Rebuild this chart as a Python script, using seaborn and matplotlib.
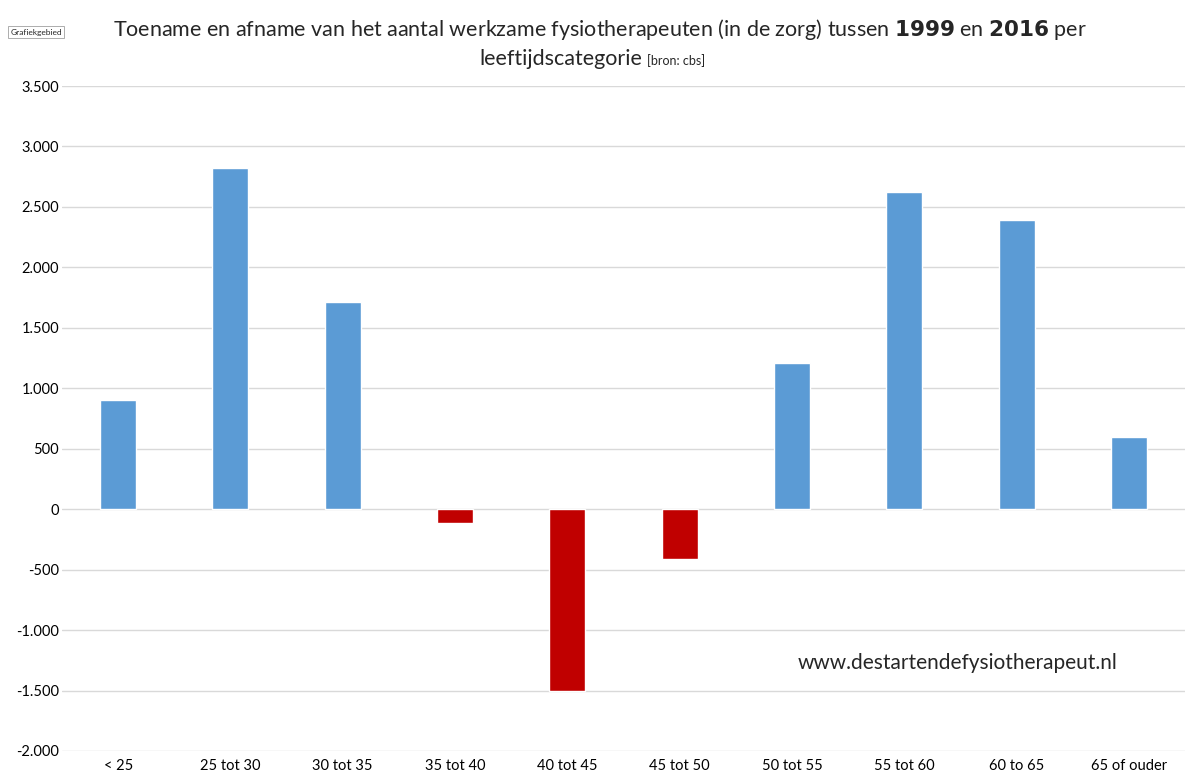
import matplotlib
matplotlib.use("Agg")
import matplotlib.pyplot as plt
import seaborn as sns
import pandas as pd
from matplotlib.ticker import FuncFormatter

categories = ["< 25", "25 tot 30", "30 tot 35", "35 tot 40", "40 tot 45", "45 tot 50",
              "50 tot 55", "55 tot 60", "60 to 65", "65 of ouder"]
values = [900, 2820, 1710, -115, -1500, -410, 1210, 2620, 2390, 600]
yticks = list(range(-2000, 3501, 500))

df = pd.DataFrame({"cat": categories, "val": values})
colors = ["#5B9BD5" if v >= 0 else "#C00000" for v in values]

sns.set_theme(style="white")
plt.rcParams['font.family'] = ['Lato', 'DejaVu Sans']

fig = plt.figure(figsize=(12, 7.83), dpi=100)
ax = fig.add_axes([62/1200, 1-751/783, (1185-62)/1200, (751-86)/783])
sns.barplot(data=df, x="cat", y="val", hue="cat", palette=colors, legend=False,
            width=0.32, ax=ax, saturation=1, zorder=3)
ax.set_ylim(-2000, 3500)
ax.set_xlim(-0.5, len(categories)-0.5)
ax.set_yticks(yticks)
ax.yaxis.set_major_formatter(FuncFormatter(lambda v, p: f"{int(v):,}".replace(",", ".")))
ax.grid(axis="y", color="#D9D9D9", linewidth=1, zorder=0)
for s in ax.spines.values():
    s.set_visible(False)
ax.set_xlabel("")
ax.set_ylabel("")
ax.tick_params(axis="both", labelsize=10.5, colors="black", length=0, pad=6)
ax.tick_params(axis="y", pad=2)

fig.text(0.5, 0.962, "Toename en afname van het aantal werkzame fysiotherapeuten (in de zorg) tussen $\\bf{1999}$ en $\\bf{2016}$ per",
         ha="center", va="center", fontsize=15.5)
fig.text(0.5, 0.925, "leeftijdscategorie", ha="right", va="center", fontsize=15.5, x=0) if False else None
t = fig.text(0.535, 0.925, "leeftijdscategorie", ha="right", va="center", fontsize=15.5)
fig.text(0.539, 0.923, "[bron: cbs]", ha="left", va="center", fontsize=9)
fig.text(0.03, 0.959, "Grafiekgebied", ha="center", va="center", fontsize=6,
         bbox=dict(boxstyle="square,pad=0.3", fc="white", ec="#A0A0A0", lw=0.6))
fig.text(0.665, 0.153, "www.destartendefysiotherapeut.nl", ha="left", va="center", fontsize=15)

fig.savefig("out.png", dpi=100, facecolor="white")
